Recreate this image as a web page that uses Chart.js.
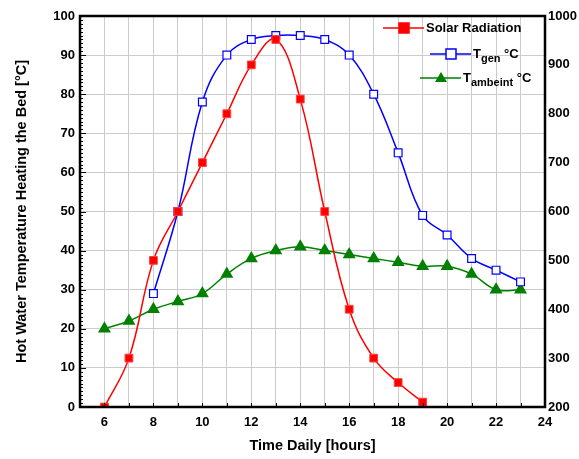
<!DOCTYPE html>
<html>
<head>
<meta charset="utf-8">
<script src="https://cdn.jsdelivr.net/npm/chart.js@4"></script>
<style>
  html, body { margin: 0; padding: 0; background: #fff; overflow: hidden; }
  #wrap { width: 600px; height: 459px; }
</style>
</head>
<body>
<div id="wrap"><canvas id="myChart" width="600" height="459"></canvas></div>
<script>
// hours of the day
const solarHours = [6, 7, 8, 9, 10, 11, 12, 13, 14, 15, 16, 17, 18, 19];
const solarRadiation = [200, 300, 500, 600, 700, 800, 900, 952, 830, 600, 400, 300, 250, 210];

const genHours = [8, 9, 10, 11, 12, 13, 14, 15, 16, 17, 18, 19, 20, 21, 22, 23];
const tGen = [29, 50, 78, 90, 94, 95, 95, 94, 90, 80, 65, 49, 44, 38, 35, 32];

const ambHours = [6, 7, 8, 9, 10, 11, 12, 13, 14, 15, 16, 17, 18, 19, 20, 21, 22, 23];
const tAmb = [20, 22, 25, 27, 29, 34, 38, 40, 41, 40, 39, 38, 37, 36, 36, 34, 30, 30];

const toPoints = (xs, ys) => xs.map((x, i) => ({ x: x, y: ys[i] }));

const FONT = 'Liberation Sans, Arial, sans-serif';

const framePlugin = {
    id: 'frame',
    afterDraw(chart) {
        const c = chart.ctx;
        const a = chart.chartArea;
        const xs = chart.scales.x, ys = chart.scales.y;
        c.save();
        // little ticks inside
        c.strokeStyle = '#000';
        c.lineWidth = 1;
        c.beginPath();
        for (let h = 5; h <= 24; h++) {
            const px = Math.round(xs.getPixelForValue(h)) + 0.5;
            c.moveTo(px, a.bottom);
            c.lineTo(px, a.bottom - 4);
        }
        for (let v = 0; v <= 100; v += 1) {
            const py = Math.round(ys.getPixelForValue(v)) + 0.5;
            const len = v % 10 === 0 ? 6 : 3;
            c.moveTo(a.left, py);
            c.lineTo(a.left + len, py);
        }
        c.stroke();
        // frame
        c.lineWidth = 2.5;
        c.strokeRect(a.left, a.top, a.right - a.left, a.bottom - a.top);

        // legend
        const entries = [
            { x: 383, y: 28, color: '#ff0000', mark: 'sq', fill: '#ff0000', main: 'Solar Radiation', sub: '', tail: '' },
            { x: 430, y: 54, color: '#0000ff', mark: 'sq', fill: '#ffffff', main: 'T', sub: 'gen', tail: ' \u00B0C' },
            { x: 420, y: 78, color: '#008000', mark: 'tri', fill: '#008000', main: 'T', sub: 'ambeint', tail: ' \u00B0C' }
        ];
        entries.forEach(e => {
            c.strokeStyle = e.color;
            c.lineWidth = 1.5;
            c.beginPath();
            c.moveTo(e.x, e.y);
            c.lineTo(e.x + 41, e.y);
            c.stroke();
            const mx = e.x + 21;
            c.fillStyle = e.fill;
            if (e.mark === 'sq') {
                c.fillRect(mx - 5, e.y - 5, 10, 10);
                c.strokeRect(mx - 5, e.y - 5, 10, 10);
            } else {
                c.beginPath();
                c.moveTo(mx, e.y - 6);
                c.lineTo(mx + 6, e.y + 4);
                c.lineTo(mx - 6, e.y + 4);
                c.closePath();
                c.fill();
            }
            c.fillStyle = '#000';
            c.textBaseline = 'middle';
            c.textAlign = 'left';
            let tx = e.x + 43;
            c.font = 'bold 13px ' + FONT;
            c.fillText(e.main, tx, e.y);
            tx += c.measureText(e.main).width;
            if (e.sub) {
                c.font = 'bold 11px ' + FONT;
                c.fillText(e.sub, tx, e.y + 5);
                tx += c.measureText(e.sub).width;
                c.font = 'bold 13px ' + FONT;
                c.fillText(e.tail, tx, e.y);
            }
        });
        c.restore();
    }
};

const ctx = document.getElementById('myChart');

new Chart(ctx, {
    type: 'line',
    data: {
        datasets: [{
            label: 'Solar Radiation',
            data: toPoints(solarHours, solarRadiation),
            yAxisID: 'y2',
            borderColor: '#ff0000',
            backgroundColor: '#ff0000',
            borderWidth: 1.5,
            pointStyle: 'rect',
            pointRadius: 5.5,
            pointBorderColor: '#ff4040',
            pointBorderWidth: 1,
            tension: 0.4
        }, {
            label: 'Tgen °C',
            data: toPoints(genHours, tGen),
            yAxisID: 'y',
            borderColor: '#0000ff',
            backgroundColor: '#ffffff',
            borderWidth: 1.5,
            pointStyle: 'rect',
            pointRadius: 5.5,
            pointBorderColor: '#0000ff',
            pointBorderWidth: 1.2,
            tension: 0.4
        }, {
            label: 'Tambeint °C',
            data: toPoints(ambHours, tAmb),
            yAxisID: 'y',
            borderColor: '#008000',
            backgroundColor: '#008000',
            borderWidth: 1.5,
            pointStyle: 'triangle',
            pointRadius: 6,
            pointBorderColor: '#008000',
            tension: 0.4
        }]
    },
    options: {
        responsive: false,
        animation: false,
        layout: { padding: { top: 16, left: 0, right: 0, bottom: 0 } },
        plugins: {
            legend: { display: false },
            tooltip: { enabled: false }
        },
        scales: {
            x: {
                type: 'linear',
                min: 5,
                max: 24,
                afterFit: s => { s.height = 52; },
                grid: { color: '#cccccc', drawTicks: false },
                border: { display: false },
                ticks: {
                    stepSize: 1,
                    padding: 8,
                    color: '#000',
                    font: { family: FONT, size: 13, weight: 'bold' },
                    callback: v => (v % 2 === 0 ? v : '')
                },
                title: {
                    display: true,
                    text: 'Time Daily [hours]',
                    color: '#000',
                    font: { family: FONT, size: 14.5, weight: 'bold' },
                    padding: { top: 12 }
                }
            },
            y: {
                position: 'left',
                min: 0,
                max: 100,
                afterFit: s => { s.width = 80; },
                grid: { color: '#cccccc', drawTicks: false },
                border: { display: false },
                ticks: {
                    stepSize: 10,
                    padding: 5,
                    color: '#000',
                    font: { family: FONT, size: 13, weight: 'bold' }
                },
                title: {
                    display: true,
                    text: 'Hot Water Temperature Heating the Bed [\u00B0C]',
                    color: '#000',
                    font: { family: FONT, size: 14.5, weight: 'bold' },
                    padding: { top: 13, bottom: 0 }
                }
            },
            y2: {
                position: 'right',
                min: 200,
                max: 1000,
                afterFit: s => { s.width = 55; },
                grid: { display: false, drawTicks: false },
                border: { display: false },
                ticks: {
                    stepSize: 100,
                    padding: 3,
                    color: '#000',
                    font: { family: FONT, size: 13, weight: 'bold' },
                    callback: v => String(v)
                }
            }
        }
    },
    plugins: [framePlugin]
});
</script>
</body>
</html>
